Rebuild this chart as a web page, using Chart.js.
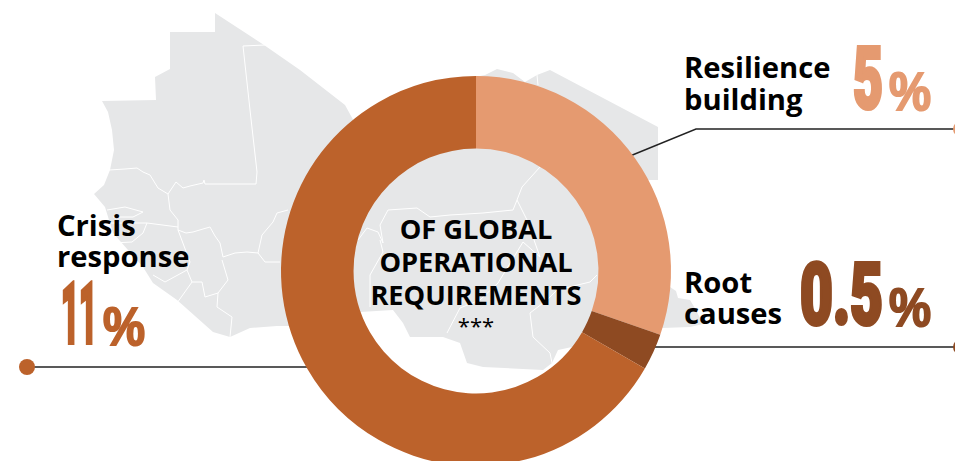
<!DOCTYPE html>
<html>
<head>
<meta charset="utf-8">
<title>Global operational requirements</title>
<script src="https://cdn.jsdelivr.net/npm/chart.js@4"></script>
<style>
    html, body { margin: 0; padding: 0; background: #fff; overflow: hidden; }
    #wrap { position: relative; width: 955px; height: 461px; overflow: hidden; }
    #art { position: absolute; left: 0; top: 0; }
    #myChart { position: absolute; left: 0; top: 0; }
    .name { font: 700 29.2px "Open Sans", sans-serif; fill: #000; }
    .mid { font: 700 27.2px "Open Sans", sans-serif; fill: #000; text-anchor: middle; }
    .big { font-family: Roboto, sans-serif; font-weight: 900; }
    .pct { font-family: "Liberation Sans Narrow", sans-serif; font-weight: 700; }
</style>
</head>
<body>
<div id="wrap">
    <svg id="art" width="955" height="461" viewBox="0 0 955 461">
        <!-- map behind the ring -->
        <path fill="#e6e7e8" d="M215,13 L264,45 L300,70 L345,105 L356,125 L400,100 L470,78 L485,75 L497,69 L513,73 L525,82 L537,75 L550,70 L658,127 L658,180 L640,180 L650,280 L670,287 L676,291 L678,298 L690,300 L696,310 L703,324 L690,327 L662,328 L640,345 L600,345 L572,347 L558,350 L552,363 L543,370 L483,367 L467,363 L460,343 L443,337 L410,337 L403,323 L393,310 L360,312 L330,326 L277,326 L250,328 L230,337 L213,332 L177,300 L153,283 L143,267 L113,233 L105,207 L94,194 L104,185 L110,170 L114,150 L112,130 L108,112 L102,101 L156,100 L155,77 L170,69 L170,32 L215,32 Z"/>
        <g fill="none" stroke="#fff" stroke-width="1">
            <polyline points="265,45 243,46 250,110 257,172 256,184 205,184 204,180 203,183 190,186 183,188 176,182 172,188 168,194 158,188 150,175 143,172 137,168 125,169 109,170"/>
            <polyline points="168,194 170,210 178,220 178,230 186,233 193,232 203,229 210,227 215,236 220,243 223,257 235,253 247,252 258,253 265,262 280,262"/>
            <polyline points="258,253 262,235 273,222 277,213 288,210"/>
            <polyline points="222,260 228,280 218,293 217,307 232,317 230,337"/>
            <polyline points="218,293 205,297 202,282 192,282 187,270 190,262 178,230"/>
            <polyline points="192,282 177,303"/>
            <polyline points="107,210 125,207 143,212 133,217 113,217"/>
            <polyline points="110,223 147,223 178,227"/>
            <polyline points="113,243 132,242 143,233 147,223"/>
            <polyline points="153,275 165,282 187,270"/>
            <polyline points="358,240 367,228 378,232 383,243 380,225 388,210 417,208 430,217 450,215 483,213 513,210 517,200 522,187 540,167"/>
            <polyline points="380,240 383,252 370,275 370,307"/>
            <polyline points="517,200 527,220 540,257 523,242 498,283 480,300 460,308 447,333"/>
            <polyline points="552,363 550,353 533,337 530,313 547,300 557,290 590,282 597,275"/>
            <polyline points="537,75 538,85"/>
        </g>
        <!-- leader lines -->
        <g fill="none" stroke="#222" stroke-width="1.4">
            <polyline points="27,367 310,367"/>
            <polyline points="955,129 696,129 630,156"/>
            <polyline points="955,347 650,347"/>
        </g>
        <circle cx="27" cy="367" r="8" fill="#bc622b"/>
        <circle cx="961" cy="129" r="8" fill="#e59a70"/>
        <circle cx="961" cy="347" r="8" fill="#8e4a22"/>
        <g id="labels"></g>
    </svg>
    <canvas id="myChart" width="955" height="542"></canvas>
</div>

<script>
var categories = ["Resilience building", "Root causes", "Crisis response"];
var values = [5, 0.5, 11];
var barColors = ["#e59a70", "#8e4a22", "#bc622b"];
var centerLines = ["OF GLOBAL", "OPERATIONAL", "REQUIREMENTS", "***"];

function text(cls, x, y, str, extra) {
    return '<text class="' + cls + '" x="' + x + '" y="' + y + '" ' + (extra || '') + '>' + str + '</text>';
}

// value = big digits, then a smaller percent sign
function bigValue(i, x, base, w) {
    var col = barColors[i];
    var extra = 'fill="' + col + '" stroke="' + col + '" lengthAdjust="spacingAndGlyphs" ';
    var s = text('big', x + 2, base - 2, values[i], extra + 'stroke-width="4" font-size="86" textLength="' + (w - 4) + '"');
    s += text('pct', x + w + 4, base, '%', extra + 'stroke-width="2" font-size="54" textLength="42"');
    return s;
}

var html = '';
html += text('name', 684, 78, 'Resilience');
html += text('name', 684, 110, 'building');
html += text('name', 684, 293, 'Root');
html += text('name', 684, 324, 'causes');
html += text('name', 57, 236, 'Crisis');
html += text('name', 57, 267, 'response');
html += bigValue(0, 851, 110, 34);
html += bigValue(1, 798, 326, 87);
html += bigValue(2, 59, 345, 40);
html += text('mid', 476, 239, centerLines[0]);
html += text('mid', 476, 272, centerLines[1]);
html += text('mid', 476, 305, centerLines[2]);
html += text('mid', 476, 334, centerLines[3], 'style="font-weight:400;font-size:22px"');
document.getElementById('labels').innerHTML = html;

const ctx = document.getElementById('myChart');

new Chart(ctx, {
    type: 'doughnut',
    data: {
        labels: categories,
        datasets: [{
            data: values,
            backgroundColor: barColors,
            borderWidth: 0
        }]
    },
    options: {
        responsive: false,
        maintainAspectRatio: false,
        animation: false,
        cutout: '62.8%',
        layout: {
            padding: { top: 76, bottom: 76, left: 0, right: 3 }
        },
        plugins: {
            legend: { display: false },
            tooltip: { enabled: false }
        }
    }
});
</script>
</body>
</html>
